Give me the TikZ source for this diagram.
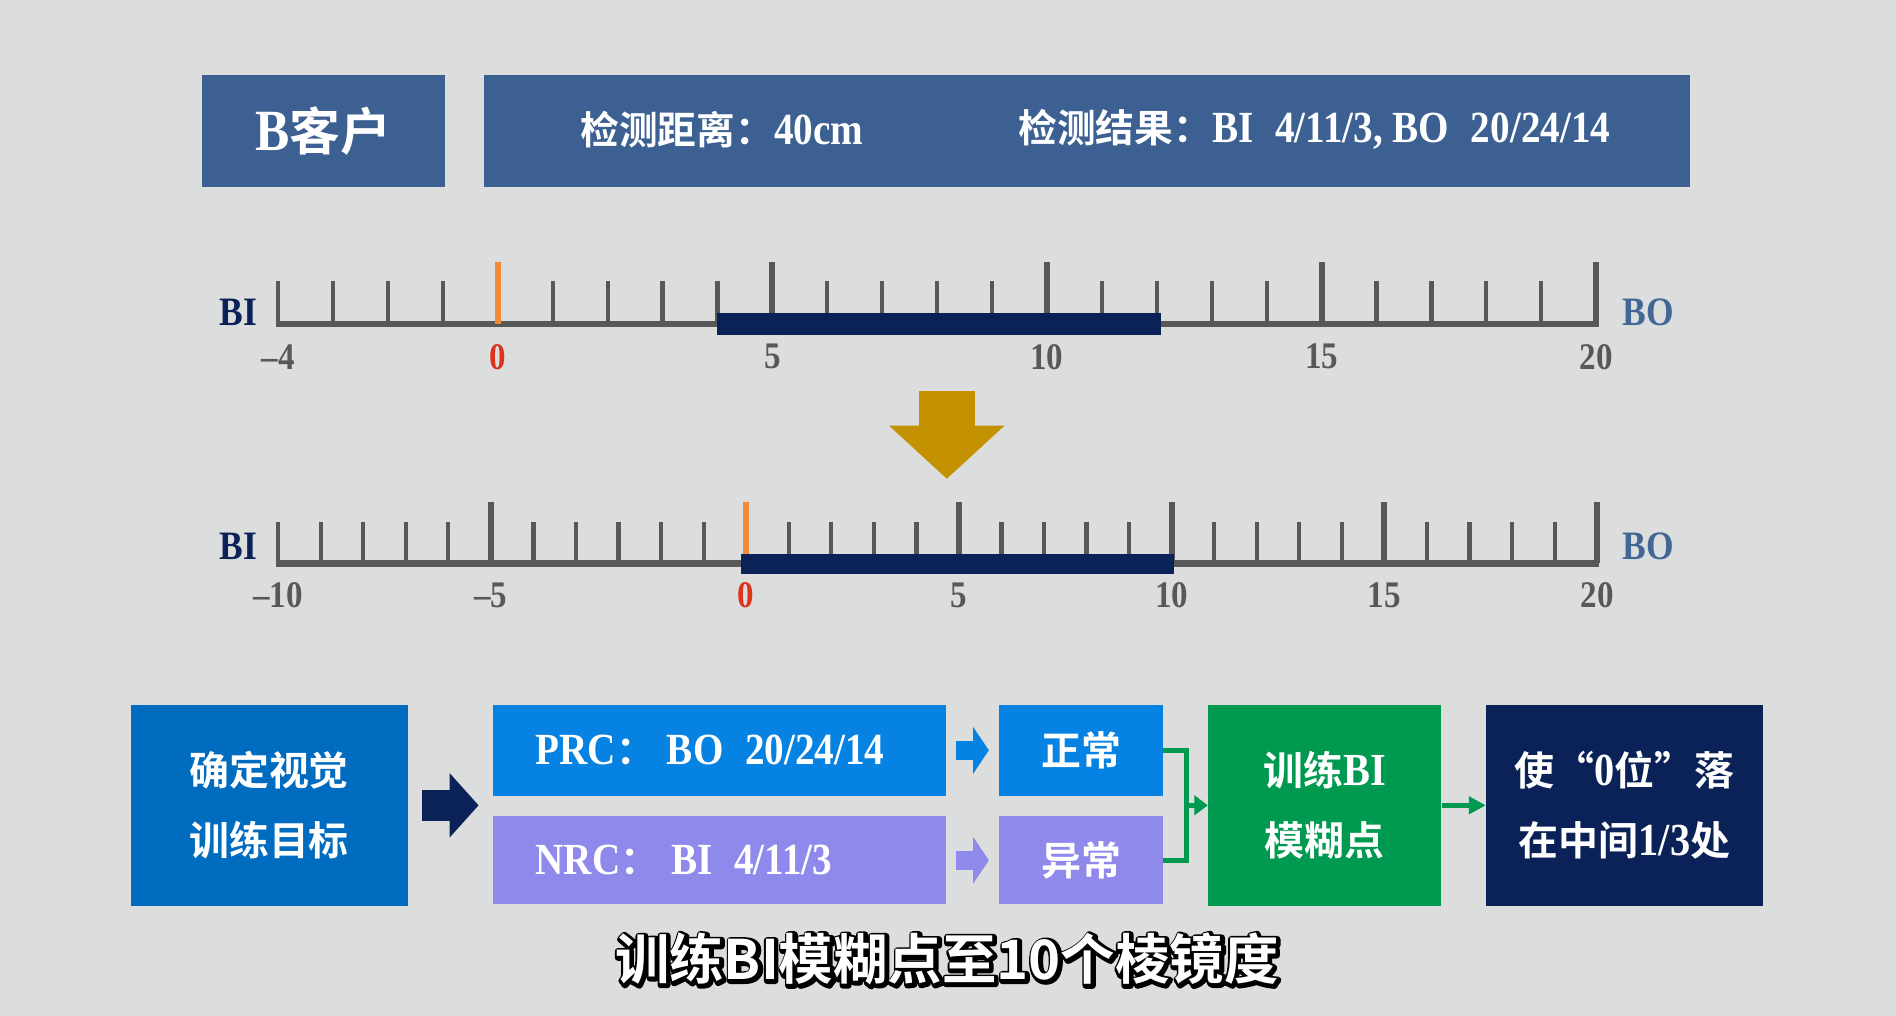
\documentclass[tikz,border=0pt]{standalone}
\usepackage{fontspec}
\setmainfont{Liberation Serif}[Scale=1.15,FakeStretch=0.88]
\newfontfamily\cjk{Noto Sans CJK SC}[BoldFont=* Bold]
\newfontfamily\subfont{Noto Sans CJK SC}[BoldFont=* Bold]
\newfontfamily\subedge{Noto Sans CJK SC}[BoldFont=* Bold, BoldFeatures={FakeBold=12}]
\usetikzlibrary{arrows.meta,calc}

\definecolor{bgcol}{RGB}{220,222,221}
\definecolor{hdrblue}{RGB}{59,96,145}
\definecolor{boblue}{RGB}{66,102,150}
\definecolor{navy}{RGB}{11,34,88}
\definecolor{tickgray}{RGB}{88,88,88}
\definecolor{zeroorange}{RGB}{238,140,60}
\definecolor{zerored}{RGB}{222,50,28}
\definecolor{gold}{RGB}{196,146,0}
\definecolor{goalblue}{RGB}{0,108,192}
\definecolor{prcblue}{RGB}{6,130,226}
\definecolor{lavender}{RGB}{142,137,235}
\definecolor{flowgreen}{RGB}{0,153,80}

\tikzset{
  hdrbox/.style={fill=hdrblue, inner sep=0pt, text=white},
  hdrtext/.style={text=white, inner sep=0pt, font=\bfseries\fontsize{32}{36}\selectfont},
  flowbox/.style={inner sep=0pt, text=white, align=center,
    font=\bfseries\fontsize{33}{58}\selectfont},
  axisline/.style={draw=tickgray, line width=5},
  minortick/.style={draw=tickgray, line width=3.5},
  majortick/.style={draw=tickgray, line width=5},
  zerotick/.style={draw=zeroorange, line width=5},
  rangebar/.style={fill=navy},
  ticklabel/.style={text=tickgray, inner sep=0pt, font=\bfseries\fontsize{27}{30}\selectfont},
  endlabel/.style={inner sep=0pt, font=\bfseries\fontsize{29}{32}\selectfont},
  greenline/.style={draw=flowgreen, line width=4},
  subtxt/.style={inner sep=0pt, font=\subfont\bfseries\fontsize{45}{50}\selectfont},
}

\begin{document}
\begin{tikzpicture}[x=1pt,y=-1pt]
\fill[bgcol] (0,0) rectangle (1568,840);

% header
\node[hdrbox, minimum width=201, minimum height=93,
  font=\bfseries\fontsize{42}{46}\selectfont] (cust) at (267.5,108.5) {B{\cjk 客户}};
\node[hdrbox, minimum width=998, minimum height=93] (info) at (899,108.5) {};
\node[hdrtext] (dist) at (597,107) {{\cjk 检测距离：}40cm};
\node[hdrtext] (result) at (1087,107) {{\cjk 检测结果：}BI\hspace{18pt}4/11/3, BO\hspace{18pt}20/24/14};

% top ruler: -4 ... 20
\draw[axisline] (228.3,268) -- (1322.5,268);
\foreach \i in {0,...,24}{
  \pgfmathsetmacro\xx{230+\i*45.417}
  \pgfmathtruncatemacro\big{(\i>4)&&(mod(\i,5)==4)}
  \ifnum\i=4 \draw[zerotick] (\xx,268) -- (\xx,217);
  \else\ifnum\big=1 \draw[majortick] (\xx,268) -- (\xx,217);
  \else \draw[minortick] (\xx,268) -- (\xx,232);
  \fi\fi
}
\fill[rangebar] (593.3,259) rectangle (960,277);
\foreach \i/\t in {0/–4, 9/5, 14/10, 19/15, 24/20}
  \node[ticklabel] at ({230+\i*45.417},295) {\t};
\node[ticklabel, text=zerored] (zeroa) at (411.7,295) {0};
\node[endlabel, text=navy] (bia) at (197,258) {BI};
\node[endlabel, text=boblue] (boa) at (1363,258) {BO};

% arrow down
\draw[gold, line width=46, -{Triangle[length=44pt,width=93pt]}] (783,323) -- (783,396);

% bottom ruler: -10 ... 20
\draw[axisline] (228.3,466) -- (1322.5,466);
\foreach \i in {0,...,31}{
  \pgfmathsetmacro\xx{230+\i*35.19}
  \pgfmathtruncatemacro\big{(\i==5)||((\i>11)&&(mod(\i,5)==1))}
  \ifnum\i=11 \draw[zerotick] (\xx,466) -- (\xx,415);
  \else\ifnum\big=1 \draw[majortick] (\xx,466) -- (\xx,415);
  \else \draw[minortick] (\xx,466) -- (\xx,432);
  \fi\fi
}
\fill[rangebar] (613,458) rectangle (971,475);
\foreach \i/\t in {0/–10, 5/–5, 16/5, 21/10, 26/15, 31/20}
  \node[ticklabel] at ({230+\i*35.19},492) {\t};
\node[ticklabel, text=zerored] (zerob) at (617.1,492) {0};
\node[endlabel, text=navy] (bib) at (197,452) {BI};
\node[endlabel, text=boblue] (bob) at (1363,452) {BO};

% flow
\node[flowbox, fill=goalblue, minimum width=229, minimum height=166] (goal) at (222.5,666)
  {{\cjk 确定视觉}\\{\cjk 训练目标}};
\node[flowbox, fill=prcblue, text width=304, inner xsep=35, minimum height=75, align=left,
  font=\bfseries\fontsize{32}{36}\selectfont]
  (prc) at (595,620.5) {PRC{\cjk ：}\hspace{10pt}BO\hspace{18pt}20/24/14};
\node[flowbox, fill=lavender, text width=304, inner xsep=35, minimum height=73, align=left,
  font=\bfseries\fontsize{32}{36}\selectfont]
  (nrc) at (595,711.5) {NRC{\cjk ：}\hspace{10pt}BI\hspace{18pt}4/11/3};
\node[flowbox, fill=prcblue, minimum width=136, minimum height=75] (normal) at (894,620.5) {{\cjk 正常}};
\node[flowbox, fill=lavender, minimum width=136, minimum height=73] (abnormal) at (894,711.5) {{\cjk 异常}};
\node[flowbox, fill=flowgreen, minimum width=193, minimum height=166] (train) at (1095.5,666)
  {{\cjk 训练}BI\\{\cjk 模糊点}};
\node[flowbox, fill=navy, minimum width=229, minimum height=166] (target) at (1343.5,666)
  {{\cjk 使“}0{\cjk 位”落}\\{\cjk 在中间}1/3{\cjk 处}};

\coordinate (split) at (prc.west |- goal.east);
\draw[navy, line width=26, -{Triangle[length=24pt,width=52pt]}]
  ([xshift=12pt]goal.east) -- ([xshift=-12pt]split);
\draw[prcblue, line width=16, -{Triangle[length=13pt,width=38pt]}]
  ([xshift=8pt]prc.east) -- ([xshift=-8pt]normal.west);
\draw[lavender, line width=16, -{Triangle[length=13pt,width=38pt]}]
  ([xshift=8pt]nrc.east) -- ([xshift=-8pt]abnormal.west);

\coordinate (merge) at ([xshift=19pt]normal.east |- train.west);
\draw[greenline] (normal.east) -| (merge);
\draw[greenline] (abnormal.east) -| (merge);
\draw[greenline, -{Triangle[length=11pt,width=16pt]}] (merge) -- (train.west);
\draw[greenline, -{Triangle[length=14pt,width=14pt]}] (train.east) -- (target.west);

% subtitle (outlined)
\coordinate (sub) at (783,793);
\node[subtxt, font=\subedge\bfseries\fontsize{45}{50}\selectfont, text=black, line join=round]
  (subedge) at ([shift={(1,1)}]sub) {训练BI模糊点至10个棱镜度};
\node[subtxt, text=white] (subtitle) at (sub) {训练BI模糊点至10个棱镜度};
\end{tikzpicture}
\end{document}
